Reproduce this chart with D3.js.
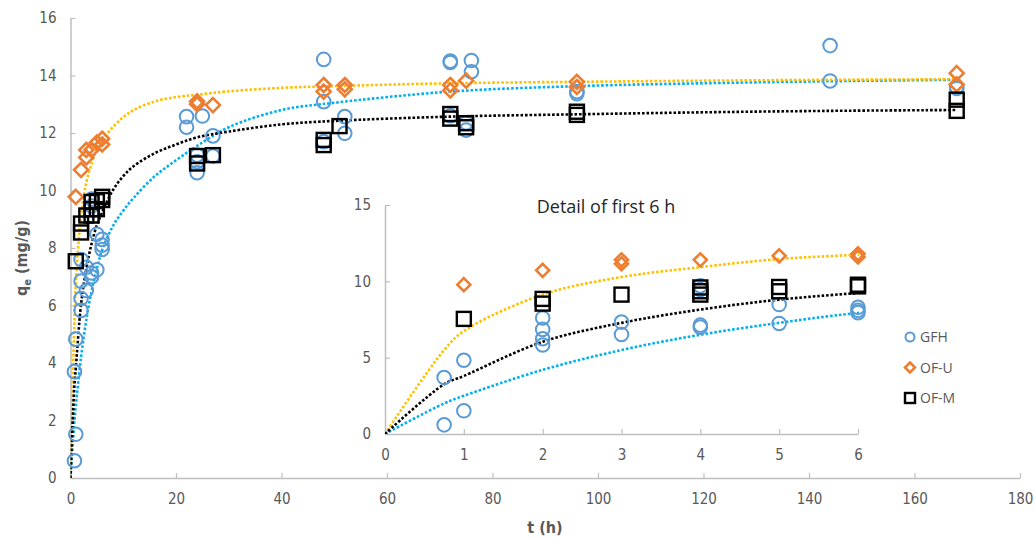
<!DOCTYPE html>
<html>
<head>
<meta charset="utf-8">
<script src="https://cdn.jsdelivr.net/npm/d3@7"></script>
<style>
  body { margin: 0; background: #fff; }
  svg text { font-family: 'Liberation Sans Narrow', 'DejaVu Sans Condensed', sans-serif; }
</style>
</head>
<body>
<div id="chart"></div>
<script>
// measured points (t in h, q in mg/g)
const gfhT = [0.75, 0.75, 1, 1, 2, 2, 2, 2, 3, 3, 4, 4, 4, 4, 5, 5, 6, 6, 6,
  22, 22, 25, 27, 24, 24, 24, 27, 48, 48, 48, 52, 52, 72, 72, 72, 76, 76, 75, 75, 96, 96, 144, 144, 168, 168];
const gfhQ = [3.7, 0.6, 4.83, 1.52, 7.6, 6.85, 6.24, 5.83, 7.33, 6.52, 9.7, 9.46, 7.13, 7.0, 8.48, 7.24, 8.3, 8.1, 7.95,
  12.57, 12.2, 12.59, 11.9, 11.23, 10.62, 11.0, 11.2, 14.56, 13.09, 11.7, 12.57, 11.99, 14.5, 14.45, 12.6, 14.52, 14.13, 12.1, 12.35, 13.44, 13.37, 15.04, 13.81, 13.6, 13.55];

const ofuT = [1, 2, 3, 3, 4, 5, 6, 6, 24, 24, 27, 48, 48, 52, 52, 72, 72, 75, 96, 96, 168, 168];
const ofuQ = [9.78, 10.72, 11.41, 11.15, 11.41, 11.67, 11.8, 11.6, 13.0, 13.1, 12.97, 13.67, 13.44, 13.67, 13.52, 13.67, 13.48, 13.82, 13.78, 13.6, 14.08, 13.69];

const ofmT = [1, 2, 2, 3, 4, 4, 4, 5, 5, 6, 6, 24, 24, 27, 48, 48, 51, 72, 72, 75, 75, 96, 96, 168, 168];
const ofmQ = [7.54, 8.85, 8.54, 9.13, 9.6, 9.35, 9.13, 9.63, 9.35, 9.78, 9.67, 11.2, 10.94, 11.23, 11.76, 11.58, 12.24, 12.66, 12.5, 12.34, 12.2, 12.74, 12.63, 13.16, 12.77];

// fitted curves
const fitT = [0, 0.75, 1, 2, 3, 4, 5, 6, 8, 10, 12, 16, 20, 24, 30, 40, 50, 72, 96, 120, 144, 168];
const gfhFit = [0, 2.0, 2.5, 4.2, 5.5, 6.5, 7.28, 7.93, 8.75, 9.3, 9.75, 10.5, 11.05, 11.55, 12.2, 12.8, 13.05, 13.44, 13.63, 13.73, 13.8, 13.85];
const ofuFit = [0, 5.5, 6.74, 9.13, 10.28, 10.93, 11.46, 11.74, 12.2, 12.55, 12.8, 13.1, 13.25, 13.33, 13.45, 13.57, 13.63, 13.73, 13.78, 13.82, 13.85, 13.87];
const ofmFit = [0, 3.26, 3.8, 6.04, 7.28, 8.15, 8.8, 9.24, 10.0, 10.5, 10.85, 11.3, 11.6, 11.85, 12.05, 12.3, 12.42, 12.57, 12.65, 12.72, 12.77, 12.8];

const xTicks = [0, 20, 40, 60, 80, 100, 120, 140, 160, 180];
const yTicks = [0, 2, 4, 6, 8, 10, 12, 14, 16];
const insetXTicks = [0, 1, 2, 3, 4, 5, 6];
const insetYTicks = [0, 5, 10, 15];
const seriesNames = ['GFH', 'OF-U', 'OF-M'];

const width = 1035, height = 539;
const axisColor = '#bfbfbf', labelColor = '#595959';

const svg = d3.select('#chart').append('svg')
  .attr('width', width).attr('height', height);

const series = [
  { name: 'GFH', t: gfhT, q: gfhQ, fit: gfhFit, marker: 'circle', color: '#5b9bd5', fitColor: '#00b0f0' },
  { name: 'OF-U', t: ofuT, q: ofuQ, fit: ofuFit, marker: 'diamond', color: '#ed7d31', fitColor: '#ffc000' },
  { name: 'OF-M', t: ofmT, q: ofmQ, fit: ofmFit, marker: 'square', color: '#000000', fitColor: '#000000' }
];

function drawMarker(g, type, color, cx, cy, s) {
  if (type === 'circle') {
    g.append('circle').attr('cx', cx).attr('cy', cy).attr('r', s)
      .attr('fill', 'none').attr('stroke', color).attr('stroke-width', 2);
  } else if (type === 'diamond') {
    g.append('path')
      .attr('d', `M${cx},${cy - s}L${cx + s},${cy}L${cx},${cy + s}L${cx - s},${cy}Z`)
      .attr('fill', 'none').attr('stroke', color).attr('stroke-width', 2.6);
  } else {
    g.append('rect').attr('x', cx - s).attr('y', cy - s)
      .attr('width', 2 * s).attr('height', 2 * s)
      .attr('fill', 'none').attr('stroke', color).attr('stroke-width', 2.4);
  }
}

function panel(opts) {
  const x = d3.scaleLinear().domain(opts.xDomain).range(opts.xRange);
  const y = d3.scaleLinear().domain(opts.yDomain).range(opts.yRange);
  const g = svg.append('g');
  const fmt = d3.format('d');

  // axes
  const xa = g.append('g').attr('transform', `translate(0,${opts.yRange[0]})`)
    .call(d3.axisBottom(x).tickValues(opts.xTicks).tickFormat(fmt)
      .tickSizeInner(-5).tickSizeOuter(0).tickPadding(opts.xPad));
  const ya = g.append('g').attr('transform', `translate(${opts.xRange[0]},0)`)
    .call(d3.axisLeft(y).tickValues(opts.yTicks).tickFormat(fmt)
      .tickSizeInner(-5).tickSizeOuter(0).tickPadding(opts.yPad));
  [xa, ya].forEach(a => {
    a.select('.domain').attr('stroke', axisColor).attr('stroke-width', 1.5);
    a.selectAll('.tick line').attr('stroke', axisColor).attr('stroke-width', 1.2);
    a.selectAll('.tick text').attr('fill', labelColor).style('font-size', '15px');
  });

  // fitted curves
  const clipId = 'clip' + opts.id;
  g.append('clipPath').attr('id', clipId).append('rect')
    .attr('x', opts.xRange[0]).attr('y', opts.yRange[1] - 10)
    .attr('width', opts.xRange[1] - opts.xRange[0] + 1)
    .attr('height', opts.yRange[0] - opts.yRange[1] + 10);
  const line = d3.line().x(d => x(d[0])).y(d => y(d[1])).curve(d3.curveCatmullRom.alpha(0.5));
  series.forEach(s => {
    const pts = fitT.map((t, i) => [t, s.fit[i]]).filter(d => d[0] <= opts.xDomain[1] + 2);
    g.append('path').attr('d', line(pts))
      .attr('clip-path', `url(#${clipId})`)
      .attr('fill', 'none').attr('stroke', s.fitColor)
      .attr('stroke-width', 2.6).attr('stroke-dasharray', '2.6 1.9');
  });

  // data markers
  series.forEach(s => {
    const mg = g.append('g');
    s.t.forEach((t, i) => {
      if (t > opts.xDomain[1]) return;
      drawMarker(mg, s.marker, s.color, x(t), y(s.q[i]), opts.size[s.marker]);
    });
  });
  return g;
}

// main chart
panel({
  id: 'main', xDomain: [0, 180], xRange: [70.5, 1020], yDomain: [0, 16], yRange: [478, 18],
  xTicks: xTicks, yTicks: yTicks, xPad: 15, yPad: 14,
  size: { circle: 6.8, diamond: 7, square: 7 }
});

// inset chart
const inset = panel({
  id: 'inset', xDomain: [0, 6], xRange: [385, 858], yDomain: [0, 15], yRange: [434, 205],
  xTicks: insetXTicks, yTicks: insetYTicks, xPad: 15, yPad: 14,
  size: { circle: 6.8, diamond: 6.5, square: 7 }
});
inset.append('text').attr('x', 606).attr('y', 213)
  .attr('text-anchor', 'middle').attr('fill', '#262626')
  .style('font-family', "'Open Sans', sans-serif").style('font-size', '18px')
  .text('Detail of first 6 h');

// axis titles
svg.append('text').attr('x', 545).attr('y', 533).attr('text-anchor', 'middle')
  .attr('fill', labelColor).style('font-weight', 'bold').style('font-size', '16px')
  .text('t (h)');
const yt = svg.append('text').attr('transform', 'translate(27,258) rotate(-90)')
  .attr('text-anchor', 'middle').attr('fill', labelColor)
  .style('font-weight', 'bold').style('font-size', '16px');
yt.append('tspan').text('q');
yt.append('tspan').attr('dy', 4).style('font-size', '11px').text('e');
yt.append('tspan').attr('dy', -4).text(' (mg/g)');

// legend
const legend = svg.append('g').attr('transform', 'translate(910,337)');
seriesNames.forEach((name, i) => {
  const s = series.find(d => d.name === name);
  const ly = i * 30.5;
  drawMarker(legend, s.marker, s.color, 0, ly, s.marker === 'circle' ? 4.5 : 5);
  legend.append('text').attr('x', 10).attr('y', ly + 5)
    .attr('fill', labelColor)
    .style('font-family', "'Open Sans', sans-serif").style('font-size', '14px')
    .text(name);
});
</script>
</body>
</html>
